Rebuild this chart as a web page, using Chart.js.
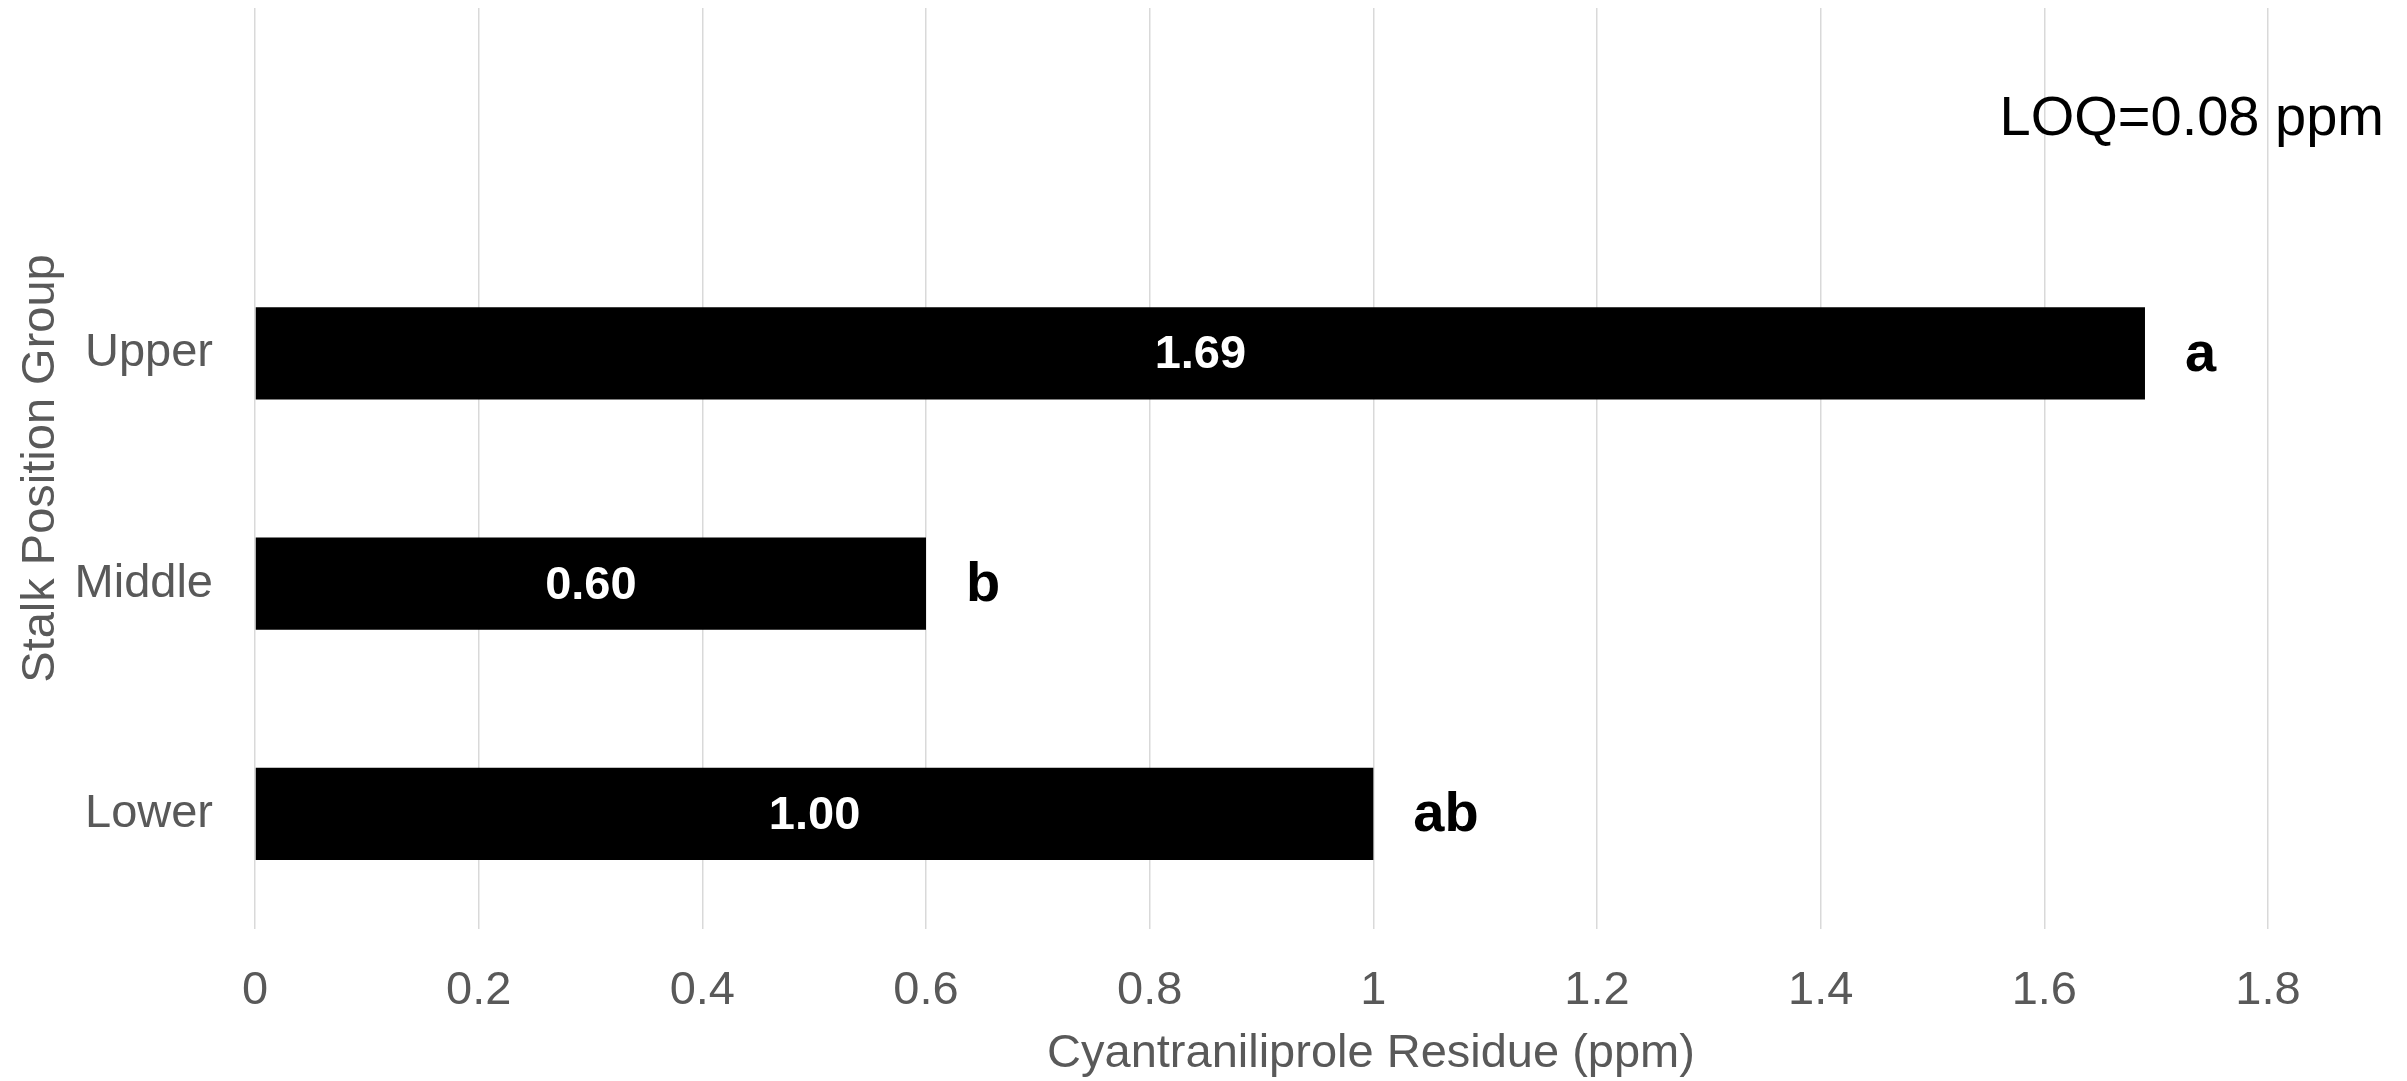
<!DOCTYPE html>
<html>
<head>
<meta charset="utf-8">
<script src="https://cdn.jsdelivr.net/npm/chart.js@4/dist/chart.umd.min.js"></script>
<style>
  html, body { margin: 0; padding: 0; background: #fff; }
  #wrap { width: 2407px; height: 1081px; }
</style>
</head>
<body>
<div id="wrap"><canvas id="chart" width="2407" height="1081"></canvas></div>
<script>
// top slot is left empty, the LOQ note sits there
var groups = ['', 'Upper', 'Middle', 'Lower'];
var residue = [null, 1.69, 0.60, 1.00];
var letters = ['', 'a', 'b', 'ab'];
var xTicks = [0, 0.2, 0.4, 0.6, 0.8, 1, 1.2, 1.4, 1.6, 1.8];
var loqNote = 'LOQ=0.08 ppm';
var xTitle = 'Cyantraniliprole Residue (ppm)';

var FONT = '"Liberation Sans", Arial, sans-serif';
var GREY = '#595959';

var barLabels = {
    id: 'barLabels',
    afterDatasetsDraw: function(chart) {
        var ctx = chart.ctx;
        var meta = chart.getDatasetMeta(0);
        ctx.save();
        ctx.textBaseline = 'middle';
        meta.data.forEach(function(bar, i) {
            var v = residue[i];
            if (v === null) return;
            // value in the middle of the bar
            ctx.fillStyle = '#ffffff';
            ctx.font = 'bold 47px ' + FONT;
            ctx.textAlign = 'center';
            ctx.fillText(v.toFixed(2), (bar.x + bar.base) / 2, bar.y + 2);
            // significance letter after the bar end
            ctx.fillStyle = '#000000';
            ctx.font = 'bold 56px ' + FONT;
            ctx.textAlign = 'left';
            ctx.fillText(letters[i], bar.x + 40, bar.y + 2);
        });
        // LOQ note in the empty top row
        var ys = chart.scales.y;
        ctx.font = '56px ' + FONT;
        ctx.textAlign = 'right';
        ctx.fillStyle = '#000000';
        ctx.fillText(loqNote, chart.width - 23, ys.getPixelForValue(0) - 4);
        // x axis title, sits a bit right of the plot centre in the original
        var xs = chart.scales.x;
        ctx.font = '47px ' + FONT;
        ctx.textAlign = 'center';
        ctx.fillStyle = GREY;
        ctx.fillText(xTitle, (xs.left + chart.width) / 2 + 40, chart.height - 27);
        ctx.restore();
    }
};

var ctx = document.getElementById('chart').getContext('2d');
var chart = new Chart(ctx, {
    type: 'bar',
    data: {
        labels: groups,
        datasets: [{
            data: residue,
            backgroundColor: '#000000',
            borderWidth: 0,
            barPercentage: 0.4,
            categoryPercentage: 1.0
        }]
    },
    options: {
        indexAxis: 'y',
        responsive: false,
        animation: false,
        layout: { padding: { top: 8, right: 139, left: 0, bottom: 0 } },
        plugins: {
            legend: { display: false },
            tooltip: { enabled: false }
        },
        scales: {
            x: {
                min: 0,
                max: 1.8,
                afterBuildTicks: function(scale) {
                    scale.ticks = xTicks.map(function(v) { return { value: v }; });
                },
                afterFit: function(scale) {
                    scale.height = 152;
                    scale.paddingLeft = 0;
                    scale.paddingRight = 0;
                },
                grid: { color: '#d9d9d9', lineWidth: 1.5, drawTicks: false },
                border: { display: false },
                ticks: {
                    color: GREY,
                    font: { family: FONT, size: 47 },
                    padding: 34,
                    callback: function(v) { return String(Math.round(v * 10) / 10); }
                },
                title: { display: false }
            },
            y: {
                afterFit: function(scale) {
                    scale.width = 255;
                    scale.paddingTop = 0;
                    scale.paddingBottom = 0;
                },
                grid: { display: false },
                border: { display: false },
                ticks: {
                    color: GREY,
                    font: { family: FONT, size: 47 },
                    padding: 34
                },
                title: {
                    display: true,
                    text: 'Stalk Position Group',
                    color: GREY,
                    font: { family: FONT, size: 47, lineHeight: 1 },
                    padding: { top: 18, bottom: 0 }
                }
            }
        }
    },
    plugins: [barLabels]
});
</script>
</body>
</html>
